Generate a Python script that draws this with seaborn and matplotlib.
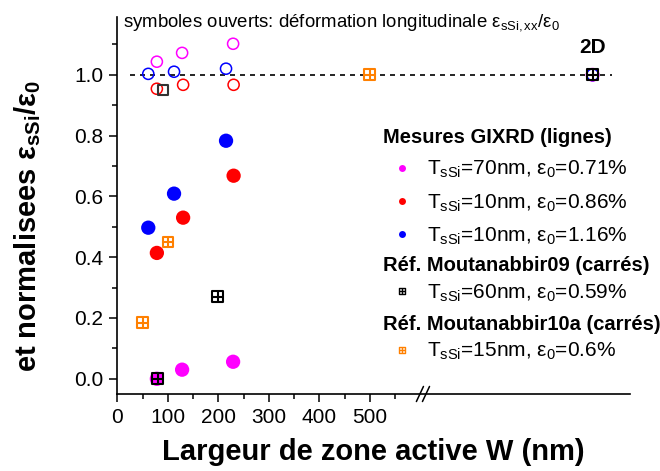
import numpy as np
import matplotlib
matplotlib.use('Agg')
import matplotlib.pyplot as plt
import matplotlib.transforms as mtransforms
from matplotlib.path import Path
from matplotlib.lines import Line2D
import seaborn as sns

# --- data ---
# GIXRD, TsSi=70nm eps0=0.71%
W_70 = [78, 128, 229]
perp_70 = [0.0, 0.03, 0.056]
long_70 = [1.043, 1.072, 1.102]
# GIXRD, TsSi=10nm eps0=0.86%
W_086 = [78, 130, 230]
perp_086 = [0.414, 0.53, 0.668]
long_086 = [0.954, 0.967, 0.967]
# GIXRD, TsSi=10nm eps0=1.16%
W_116 = [61, 112, 215]
perp_116 = [0.497, 0.609, 0.783]
long_116 = [1.003, 1.01, 1.02]
# Moutanabbir09, TsSi=60nm eps0=0.59%
W_m09 = [80, 199]
perp_m09 = [0.0, 0.27]
W_m09_long = [90]
long_m09 = [0.95]
# Moutanabbir10a, TsSi=15nm eps0=0.6%
W_m10 = [50, 100, 500]
perp_m10 = [0.184, 0.45, 1.0]
# 2D reference (infinite width, drawn after the axis break)
W_2D = 941
val_2D = 1.0
x_break = 605

MAGENTA = '#FF00FF'
RED = '#FF0000'
BLUE = '#0000FF'
ORANGE = '#FF8000'

sns.set_theme(style='ticks', rc={'axes.edgecolor': 'black', 'xtick.color': 'black', 'ytick.color': 'black',
                                 'text.color': 'black', 'axes.labelcolor': 'black'})
plt.rcParams['font.family'] = ['Liberation Sans', 'DejaVu Sans']
plt.rcParams['mathtext.fontset'] = 'custom'
plt.rcParams['mathtext.rm'] = 'Liberation Sans'
plt.rcParams['mathtext.it'] = 'Liberation Sans:italic'
plt.rcParams['mathtext.bf'] = 'Liberation Sans:bold'
plt.rcParams['mathtext.default'] = 'regular'

# square with a cross inside
boxplus = Path([(-1, -1), (1, -1), (1, 1), (-1, 1), (-1, -1), (0, -1), (0, 1), (-1, 0), (1, 0)],
               [Path.MOVETO, Path.LINETO, Path.LINETO, Path.LINETO, Path.CLOSEPOLY,
                Path.MOVETO, Path.LINETO, Path.MOVETO, Path.LINETO])

fig = plt.figure(figsize=(6.6, 4.71), dpi=100)
ax = fig.add_axes([0.178, 0.1635, 0.7765, 0.8004])

ax.hlines(1.0, 25, 979, colors='black', linestyles=(0, (3, 3)), linewidth=1.2, zorder=1)

# open symbols: longitudinal strain
sns.scatterplot(x=W_70, y=long_70, ax=ax, s=64, facecolor='none', edgecolor=MAGENTA, linewidth=1.1)
sns.scatterplot(x=W_086, y=long_086, ax=ax, s=64, facecolor='none', edgecolor=RED, linewidth=1.1)
sns.scatterplot(x=W_116, y=long_116, ax=ax, s=64, facecolor='none', edgecolor=BLUE, linewidth=1.1)
sns.scatterplot(x=W_m09_long, y=long_m09, ax=ax, s=45, marker='s', facecolor='none',
                edgecolor='#333333', linewidth=1.5)

# filled symbols
sns.scatterplot(x=W_70, y=perp_70, ax=ax, s=106, color=MAGENTA, edgecolor='none')
sns.scatterplot(x=W_086, y=perp_086, ax=ax, s=106, color=RED, edgecolor='none')
sns.scatterplot(x=W_116, y=perp_116, ax=ax, s=106, color=BLUE, edgecolor='none')
sns.scatterplot(x=W_m10, y=perp_m10, ax=ax, s=62, marker=boxplus, facecolor='none',
                edgecolor=ORANGE, linewidth=1.5, zorder=4)
sns.scatterplot(x=W_m09, y=perp_m09, ax=ax, s=62, marker=boxplus, facecolor='none',
                edgecolor='black', linewidth=1.5, zorder=4)

# 2D point
sns.scatterplot(x=[W_2D], y=[val_2D], ax=ax, s=80, facecolor='none', edgecolor=MAGENTA, linewidth=1.1)
sns.scatterplot(x=[W_2D], y=[val_2D], ax=ax, s=70, facecolor='none', edgecolor=BLUE, linewidth=1.1)
sns.scatterplot(x=[W_2D], y=[val_2D], ax=ax, s=62, marker=boxplus, facecolor='none',
                edgecolor='black', linewidth=1.5, zorder=4)
ax.text(W_2D, 1.09, '2D', ha='center', va='center', fontsize=15, fontweight='bold')

ax.set_xlim(0, 1015)
ax.set_ylim(-0.05, 1.19)
ax.set_xticks([0, 100, 200, 300, 400, 500])
ax.set_xticks(np.arange(50, 600, 100), minor=True)
ax.set_yticks([0.0, 0.2, 0.4, 0.6, 0.8, 1.0])
ax.set_yticklabels(['0.0', '0.2', '0.4', '0.6', '0.8', '1.0'])
ax.set_yticks([0.1, 0.3, 0.5, 0.7, 0.9, 1.1], minor=True)
ax.tick_params(axis='both', which='major', direction='out', length=6, width=1.1, labelsize=15, pad=4)
ax.tick_params(axis='both', which='minor', direction='out', length=3.5, width=1.1)
for side in ['top', 'right']:
    ax.spines[side].set_visible(False)
for side in ['left', 'bottom']:
    ax.spines[side].set_linewidth(1.2)

# axis break marks
trans = mtransforms.blended_transform_factory(ax.transData, ax.transAxes)
for dx in [-6, 6]:
    ax.plot([x_break + dx - 7, x_break + dx + 7], [-0.02, 0.02], color='black', lw=1.1,
            transform=trans, clip_on=False)

ax.set_xlabel('Largeur de zone active W (nm)', fontsize=21, fontweight='bold', labelpad=8)
ax.set_ylabel(r'et normalisees $\varepsilon_{sSi}/\varepsilon_0$', fontsize=21, fontweight='bold')
ax.yaxis.set_label_coords(-0.145, 0.445)

ax.text(0.011, 0.985, r'symboles ouverts: déformation longitudinale $\varepsilon_{sSi,xx}/\varepsilon_0$',
        transform=ax.transAxes, fontsize=13.4, va='center', ha='left')

# legends
def dot(c):
    return Line2D([], [], ls='none', marker='o', markersize=5, color=c, markeredgecolor='none')

def box(c):
    return Line2D([], [], ls='none', marker=boxplus, markersize=4.5, markerfacecolor='none',
                  markeredgecolor=c, markeredgewidth=1.0)

common = dict(loc='upper left', frameon=False, alignment='left', borderpad=0, borderaxespad=0,
              handlelength=1.83, handletextpad=0.29, fontsize=15,
              title_fontproperties={'weight': 'bold', 'size': 14.5})

leg1 = ax.legend([dot(MAGENTA), dot(RED), dot(BLUE)],
                 [r'T$_{sSi}$=70nm, $\varepsilon_0$=0.71%',
                  r'T$_{sSi}$=10nm, $\varepsilon_0$=0.86%',
                  r'T$_{sSi}$=10nm, $\varepsilon_0$=1.16%'],
                 title='Mesures GIXRD (lignes)', bbox_to_anchor=(0.518, 0.706),
                 labelspacing=0.58, **common)
ax.add_artist(leg1)
leg2 = ax.legend([box('black')], [r'T$_{sSi}$=60nm, $\varepsilon_0$=0.59%'],
                 title='Réf. Moutanabbir09 (carrés)', bbox_to_anchor=(0.518, 0.366),
                 labelspacing=0.35, **common)
ax.add_artist(leg2)
leg3 = ax.legend([box(ORANGE)], [r'T$_{sSi}$=15nm, $\varepsilon_0$=0.6%'],
                 title='Réf. Moutanabbir10a (carrés)', bbox_to_anchor=(0.518, 0.21),
                 labelspacing=0.35, **common)

fig.savefig('out.png', dpi=100)
